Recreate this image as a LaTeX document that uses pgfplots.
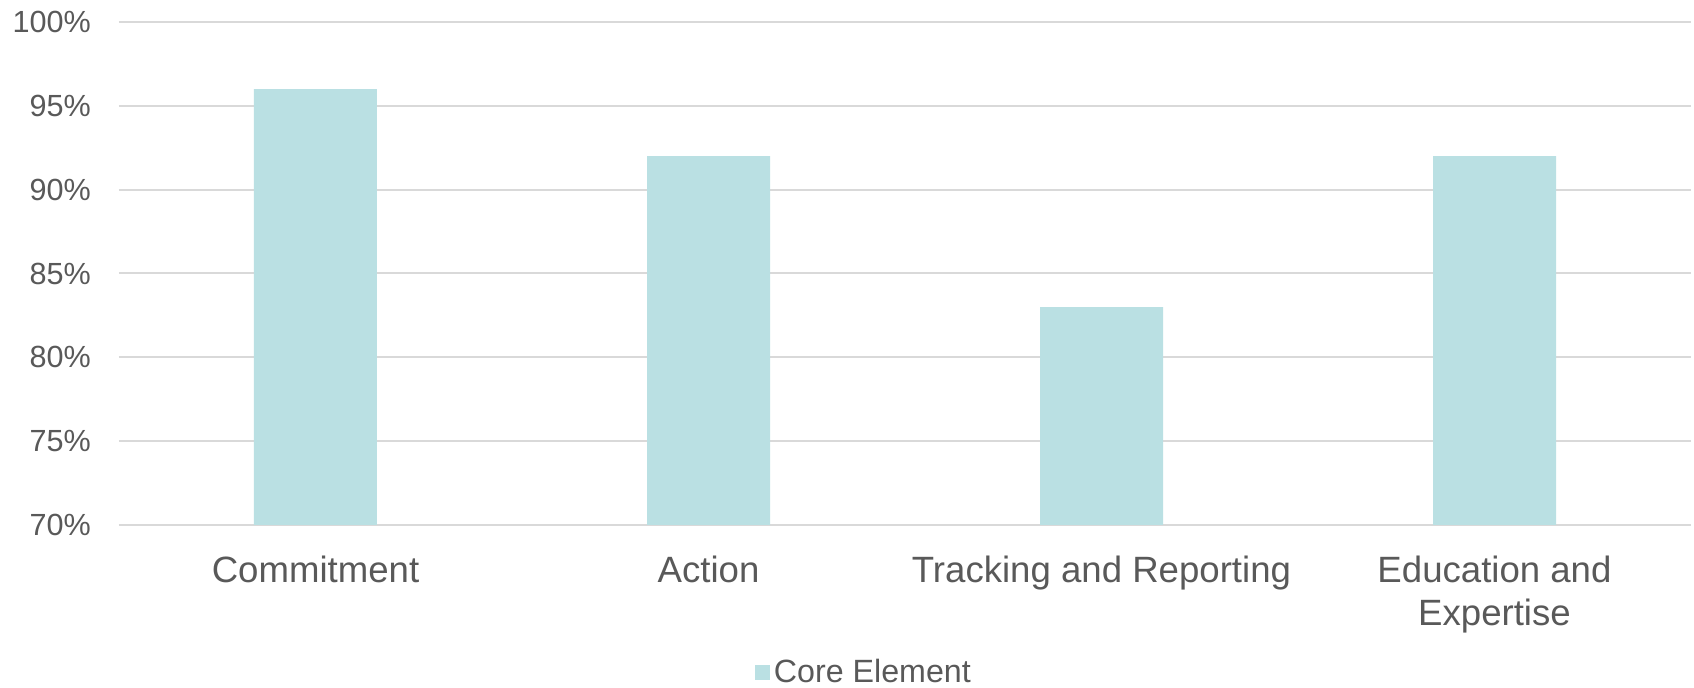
\documentclass[border=0pt]{standalone}
\usepackage{pgfplots}
\pgfplotsset{compat=1.18}
\usepackage{fontspec}
\setmainfont{Liberation Sans}
\definecolor{barcol}{HTML}{BAE0E3}
\definecolor{gridcol}{HTML}{D9D9D9}
\definecolor{txt}{HTML}{595959}
\begin{document}
\begin{tikzpicture}[x=1pt,y=1pt]
\begin{axis}[
  at={(59.5pt,81.5pt)}, anchor=south west,
  scale only axis, width=786pt, height=251.5pt,
  xmin=-0.5, xmax=3.5, ymin=70, ymax=100,
  xtick={0,1,2,3},
  xticklabels={Commitment, Action, Tracking and Reporting, {Education and\\Expertise}},
  ytick={70,75,80,85,90,95,100},
  yticklabels={70\%,75\%,80\%,85\%,90\%,95\%,100\%},
  major tick length=0pt,
  axis line style={draw=none},
  ymajorgrids, grid style={gridcol, line width=1pt},
  yticklabel style={font=\fontsize{15.3}{18}\selectfont, text=txt, xshift=-10.5pt},
  xticklabel style={font=\fontsize{18.3}{21.3}\selectfont, text=txt, align=center, anchor=north, yshift=-12pt},
  legend style={at={(0.4745,-0.293)}, anchor=center, draw=none, fill=none,
    font=\fontsize{16.1}{18}\selectfont, text=txt, legend columns=1,
    /tikz/every even column/.append style={column sep=0pt}},
  legend image code/.code={\fill[barcol] (0pt,-3.75pt) rectangle (7.5pt,3.75pt);},
  legend cell align=left,
]
\addplot[ybar, bar width=61.5pt, fill=barcol, draw=none] coordinates {
  (0,96) (1,92) (2,83) (3,92)
};
\addlegendentry{Core Element}
\end{axis}
\pgfresetboundingbox
\path[use as bounding box] (0,0) rectangle (847,344);
\end{tikzpicture}
\end{document}
